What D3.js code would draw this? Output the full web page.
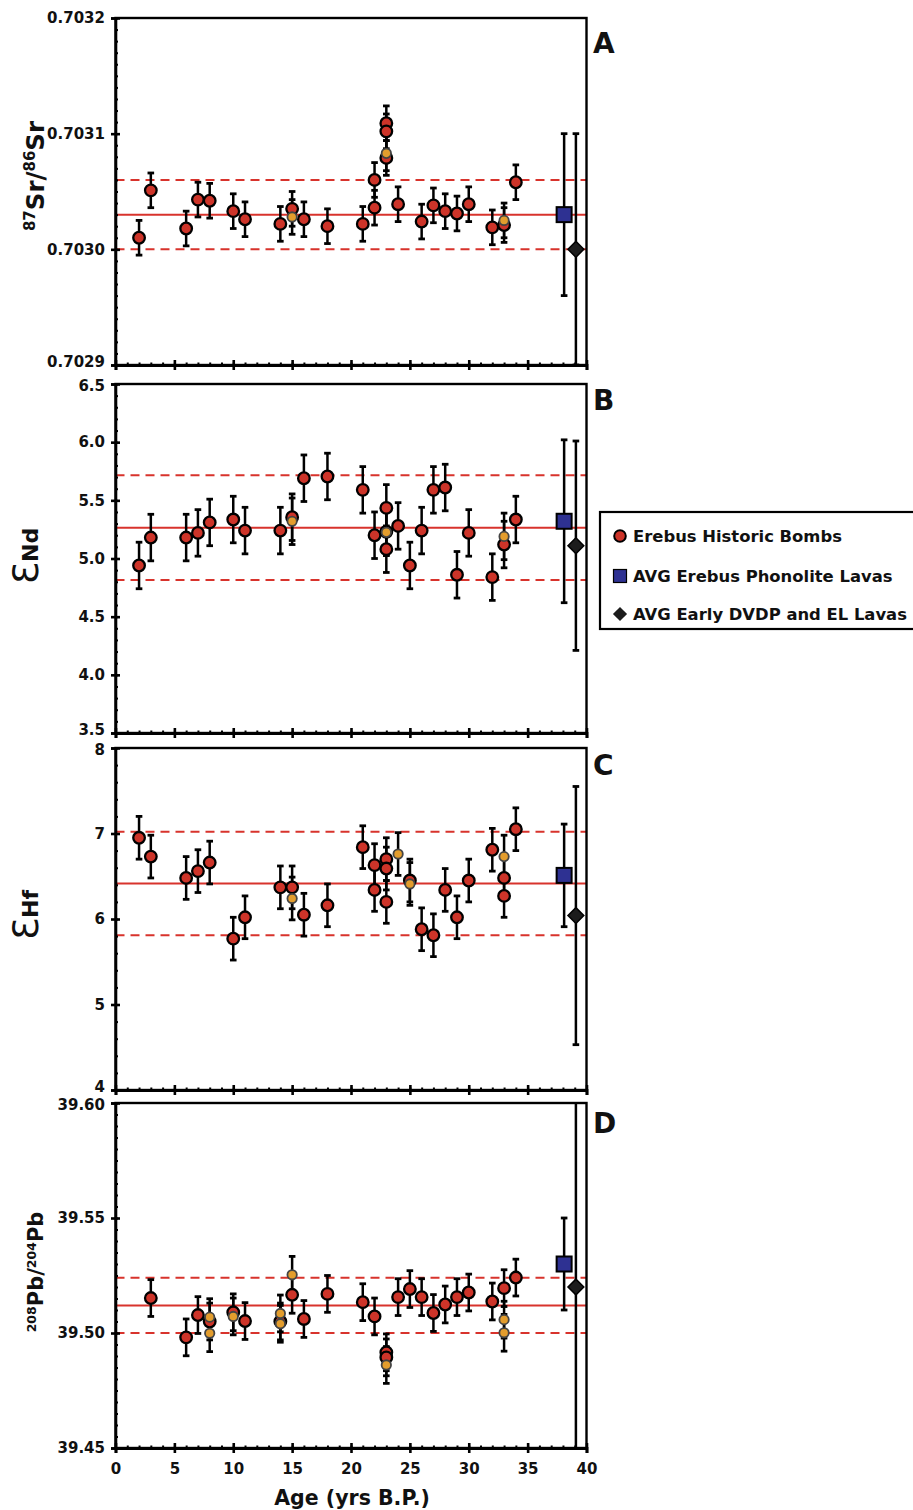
<!DOCTYPE html>
<html lang="en">
<meta charset="UTF-8">
<title>Erebus isotope ratios vs age</title>
<script src="https://d3js.org/d3.v7.min.js"></script>
<style>
body {margin:0; background:#fff;}
svg text {font-family: "DejaVu Sans", sans-serif; font-weight: bold; fill: #111;}
</style>
<body>
<svg id="chart" width="913" height="1510"></svg>
<script>
// age axis (yrs B.P.)
var ageTicks = [0, 5, 10, 15, 20, 25, 30, 35, 40];

// A: 87Sr/86Sr
var srTicks = [0.7029, 0.7030, 0.7031, 0.7032];
var srBombAge = [2, 3, 6, 7, 8, 10, 11, 14, 15, 16, 18, 21, 22, 22, 23, 23, 23, 24, 26, 27, 28, 29, 30, 32, 33, 34];
var srBombVal = [0.70301, 0.703051, 0.703018, 0.703043, 0.703042, 0.703033, 0.703026, 0.703022, 0.703035, 0.703026,
                 0.70302, 0.703022, 0.70306, 0.703036, 0.703109, 0.703102, 0.703079, 0.703039, 0.703024, 0.703038,
                 0.703033, 0.703031, 0.703039, 0.703019, 0.703021, 0.703058];
var srRepAge = [15, 23, 33];
var srRepVal = [0.703028, 0.703083, 0.703025];
var srErr = 0.000015;
var srRef = [0.70303, 0.70306, 0.70300];       // mean, +2sd, -2sd
var srPhon = [38.1, 0.70303, 0.00007];          // age, value, error
var srDvdp = [39.1, 0.70300, 0.0001];

// B: eNd
var ndTicks = [3.5, 4.0, 4.5, 5.0, 5.5, 6.0, 6.5];
var ndBombAge = [2, 3, 6, 7, 8, 10, 11, 14, 15, 16, 18, 21, 22, 23, 23, 23, 24, 25, 26, 27, 28, 29, 30, 32, 33, 34];
var ndBombVal = [4.94, 5.18, 5.18, 5.22, 5.31, 5.335, 5.24, 5.24, 5.355, 5.69, 5.705, 5.59, 5.2, 5.435, 5.23, 5.08,
                 5.28, 4.94, 5.24, 5.59, 5.61, 4.86, 5.22, 4.84, 5.12, 5.335];
var ndRepAge = [15, 23, 33];
var ndRepVal = [5.32, 5.225, 5.19];
var ndErr = 0.2;
var ndRef = [5.265, 5.715, 4.815];
var ndPhon = [38.1, 5.32, 0.7];
var ndDvdp = [39.1, 5.11, 0.9];

// C: eHf
var hfTicks = [4, 5, 6, 7, 8];
var hfBombAge = [2, 3, 6, 7, 8, 10, 11, 14, 15, 16, 18, 21, 22, 22, 23, 23, 23, 25, 26, 27, 28, 29, 30, 32, 33, 33, 34];
var hfBombVal = [6.95, 6.73, 6.48, 6.56, 6.66, 5.77, 6.02, 6.37, 6.37, 6.05, 6.16, 6.84, 6.63, 6.34, 6.7, 6.59, 6.2,
                 6.45, 5.88, 5.81, 6.34, 6.02, 6.45, 6.81, 6.48, 6.27, 7.05];
var hfRepAge = [15, 24, 25, 33];
var hfRepVal = [6.24, 6.76, 6.41, 6.73];
var hfErr = 0.25;
var hfRef = [6.415, 7.02, 5.81];
var hfPhon = [38.1, 6.51, 0.6];
var hfDvdp = [39.1, 6.04, 1.51];

// D: 208Pb/204Pb
var pbTicks = [39.45, 39.50, 39.55, 39.60];
var pbBombAge = [3, 6, 7, 8, 10, 11, 14, 15, 16, 18, 21, 22, 23, 23, 24, 25, 26, 27, 28, 29, 30, 32, 33, 34];
var pbBombVal = [39.5152, 39.4981, 39.5078, 39.505, 39.509, 39.5052, 39.505, 39.5166, 39.5061, 39.517, 39.5134,
                 39.5072, 39.4916, 39.4894, 39.5156, 39.5191, 39.5156, 39.5087, 39.5124, 39.5156, 39.5176, 39.5137,
                 39.5195, 39.5241];
var pbRepAge = [8, 8, 10, 14, 14, 15, 23, 33, 33];
var pbRepVal = [39.5069, 39.4999, 39.5072, 39.5085, 39.504, 39.5253, 39.4861, 39.5058, 39.5001];
var pbErr = 0.008;
var pbRef = [39.512, 39.524, 39.500];
var pbPhon = [38.1, 39.530, 0.02];
var pbDvdp = [39.1, 39.520, 0.1];

var legendLabels = ["Erebus Historic Bombs", "AVG Erebus Phonolite Lavas", "AVG Early DVDP and EL Lavas"];

var RED = "#cd3429", ORANGE = "#e39d2d", BLUE = "#2e3192", DARK = "#1c1c1c", LINE = "#d8332c";

var svg = d3.select("#chart");
var x = d3.scaleLinear().domain([0, 40]).range([115.5, 586.5]);

var panels = [
  {letter: "A", top: 18, bottom: 365, ticks: srTicks, fmt: d3.format(".4f"), minor: 30, ref: srRef, err: srErr,
   bombAge: srBombAge, bombVal: srBombVal, repAge: srRepAge, repVal: srRepVal, phon: srPhon, dvdp: srDvdp},
  {letter: "B", top: 384, bottom: 733, ticks: ndTicks, fmt: d3.format(".1f"), minor: 30, ref: ndRef, err: ndErr,
   bombAge: ndBombAge, bombVal: ndBombVal, repAge: ndRepAge, repVal: ndRepVal, phon: ndPhon, dvdp: ndDvdp},
  {letter: "C", top: 748, bottom: 1090, ticks: hfTicks, fmt: d3.format("d"), minor: 20, ref: hfRef, err: hfErr,
   bombAge: hfBombAge, bombVal: hfBombVal, repAge: hfRepAge, repVal: hfRepVal, phon: hfPhon, dvdp: hfDvdp},
  {letter: "D", top: 1103, bottom: 1448, ticks: pbTicks, fmt: d3.format(".2f"), minor: 30, ref: pbRef, err: pbErr,
   bombAge: pbBombAge, bombVal: pbBombVal, repAge: pbRepAge, repVal: pbRepVal, phon: pbPhon, dvdp: pbDvdp}
];
var letterY = [53, 410, 775, 1133];

panels.forEach(function(p, i) {
  var lo = p.ticks[0], hi = p.ticks[p.ticks.length - 1];
  var y = d3.scaleLinear().domain([lo, hi]).range([p.bottom, p.top]).clamp(true);
  var g = svg.append("g");

  // mean and +/- lines
  g.selectAll("line.ref").data(p.ref).enter().append("line")
    .attr("class", "ref")
    .attr("x1", x(0)).attr("x2", x(40))
    .attr("y1", d => y(d)).attr("y2", d => y(d))
    .attr("stroke", LINE).attr("stroke-width", 2)
    .attr("stroke-dasharray", (d, j) => j ? "9,6" : null);

  var bombs = p.bombAge.map((a, j) => ({age: a, val: p.bombVal[j], err: p.err}));
  var reps = p.repAge.map((a, j) => ({age: a, val: p.repVal[j], err: p.err}));
  var avgs = [{age: p.phon[0], val: p.phon[1], err: p.phon[2], kind: "phon"},
              {age: p.dvdp[0], val: p.dvdp[1], err: p.dvdp[2], kind: "dvdp"}];
  var all = bombs.concat(reps, avgs);

  // error bars
  var eb = g.selectAll("g.err").data(all).enter().append("g").attr("class", "err");
  eb.append("line")
    .attr("x1", d => x(d.age)).attr("x2", d => x(d.age))
    .attr("y1", d => y(d.val - d.err)).attr("y2", d => y(d.val + d.err))
    .attr("stroke", "#000").attr("stroke-width", 2.5);
  eb.filter(d => d.val + d.err <= hi).append("line")
    .attr("x1", d => x(d.age) - 3.3).attr("x2", d => x(d.age) + 3.3)
    .attr("y1", d => y(d.val + d.err)).attr("y2", d => y(d.val + d.err))
    .attr("stroke", "#000").attr("stroke-width", 2.8);
  eb.filter(d => d.val - d.err >= lo).append("line")
    .attr("x1", d => x(d.age) - 3.3).attr("x2", d => x(d.age) + 3.3)
    .attr("y1", d => y(d.val - d.err)).attr("y2", d => y(d.val - d.err))
    .attr("stroke", "#000").attr("stroke-width", 2.8);

  g.selectAll("circle.bomb").data(bombs).enter().append("circle")
    .attr("class", "bomb")
    .attr("cx", d => x(d.age)).attr("cy", d => y(d.val)).attr("r", 5.8)
    .attr("fill", RED).attr("stroke", "#000").attr("stroke-width", 2.3);
  g.selectAll("circle.rep").data(reps).enter().append("circle")
    .attr("class", "rep")
    .attr("cx", d => x(d.age)).attr("cy", d => y(d.val)).attr("r", 4.7)
    .attr("fill", ORANGE).attr("stroke", "#444").attr("stroke-width", 1.8);

  g.append("rect")
    .attr("x", x(avgs[0].age) - 7.5).attr("y", y(avgs[0].val) - 7.5)
    .attr("width", 15).attr("height", 15)
    .attr("fill", BLUE).attr("stroke", "#000").attr("stroke-width", 2);
  g.append("path")
    .attr("d", d3.symbol(d3.symbolSquare, 125)())
    .attr("transform", "translate(" + x(avgs[1].age) + "," + y(avgs[1].val) + ") rotate(45)")
    .attr("fill", DARK).attr("stroke", "#000").attr("stroke-width", 1.5);

  // frame
  g.append("rect")
    .attr("x", x(0)).attr("y", p.top)
    .attr("width", x(40) - x(0)).attr("height", p.bottom - p.top)
    .attr("fill", "none").attr("stroke", "#000").attr("stroke-width", 2.4);

  // y axis: minor ticks, then major ticks crossing the axis
  var yMinor = g.append("g").attr("transform", "translate(" + x(0) + ",0)")
    .call(d3.axisRight(y).ticks(p.minor).tickSize(2.5).tickFormat(""));
  yMinor.select(".domain").remove();
  yMinor.selectAll(".tick line").attr("stroke-width", 2);

  var yAxis = g.append("g").attr("transform", "translate(" + x(0) + ",0)")
    .call(d3.axisLeft(y).tickValues(p.ticks).tickFormat(p.fmt).tickSize(4.5).tickPadding(6));
  yAxis.select(".domain").attr("stroke-width", 2.6);
  yAxis.selectAll(".tick line").attr("x1", 4.5).attr("stroke-width", 2.6);
  yAxis.selectAll(".tick text")
    .attr("font-size", 15).attr("font-family", null).attr("fill", "#111")
    // the end labels of stacked panels sit close together; nudge them apart
    .attr("dy", d => d === lo && i < 3 ? "0.1em" : d === hi && i > 0 ? "0.45em" : "0.32em");

  // x axis
  var xMinor = g.append("g").attr("transform", "translate(0," + p.bottom + ")")
    .call(d3.axisTop(x).ticks(40).tickSize(2.5).tickFormat(""));
  xMinor.select(".domain").remove();
  xMinor.selectAll(".tick line").attr("stroke-width", 2);

  var xAxis = g.append("g").attr("transform", "translate(0," + p.bottom + ")")
    .call(d3.axisBottom(x).tickValues(ageTicks).tickSize(5).tickPadding(10)
      .tickFormat(i === 3 ? d3.format("d") : ""));
  xAxis.select(".domain").attr("stroke-width", 2.8);
  xAxis.selectAll(".tick line").attr("y1", -5).attr("stroke-width", 2.6);
  xAxis.selectAll(".tick text")
    .attr("font-size", 15).attr("font-family", null).attr("fill", "#111");

  svg.append("text")
    .attr("x", 593).attr("y", letterY[i])
    .attr("font-size", 28)
    .text(p.letter);
});

// y titles
function rotTitle(cx, cy, parts) {
  var t = svg.append("text")
    .attr("transform", "translate(" + cx + "," + cy + ") rotate(-90)")
    .attr("text-anchor", "middle");
  parts.forEach(function(s) {
    t.append("tspan").attr("font-size", s[1]).attr("dy", s[2])
      .attr("font-weight", s[3] || "bold").text(s[0]);
  });
}
rotTitle(44, 176, [["87", 15, -9], ["Sr/", 24.5, 9], ["86", 15, -9], ["Sr", 24.5, 9]]);
rotTitle(38, 556, [["\u0190", 36, 0, "normal"], ["Nd", 22, 0]]);
rotTitle(38, 915, [["\u0190", 36, 0, "normal"], ["Hf", 22, 0]]);
rotTitle(43, 1272, [["208", 12.5, -7], ["Pb/", 21, 7], ["204", 12.5, -7], ["Pb", 21, 7]]);

svg.append("text")
  .attr("x", 352).attr("y", 1505)
  .attr("text-anchor", "middle")
  .attr("font-size", 20.5)
  .text("Age (yrs B.P.)");

// legend
var leg = svg.append("g");
leg.append("rect")
  .attr("x", 600).attr("y", 512).attr("width", 330).attr("height", 117)
  .attr("fill", "#fff").attr("stroke", "#000").attr("stroke-width", 2.2);
var legY = [536, 576, 614];
leg.append("circle").attr("cx", 620).attr("cy", legY[0]).attr("r", 5.8)
  .attr("fill", RED).attr("stroke", "#000").attr("stroke-width", 2);
leg.append("rect").attr("x", 613.5).attr("y", legY[1] - 6.5).attr("width", 13).attr("height", 13)
  .attr("fill", BLUE).attr("stroke", "#000").attr("stroke-width", 1.2);
leg.append("path")
  .attr("d", d3.symbol(d3.symbolSquare, 100)())
  .attr("transform", "translate(620," + legY[2] + ") rotate(45)")
  .attr("fill", DARK);
leg.selectAll("text").data(legendLabels).enter().append("text")
  .attr("x", 633).attr("y", (d, j) => legY[j] + 6)
  .attr("font-size", 16.4)
  .text(d => d);
</script>
</body>
</html>
